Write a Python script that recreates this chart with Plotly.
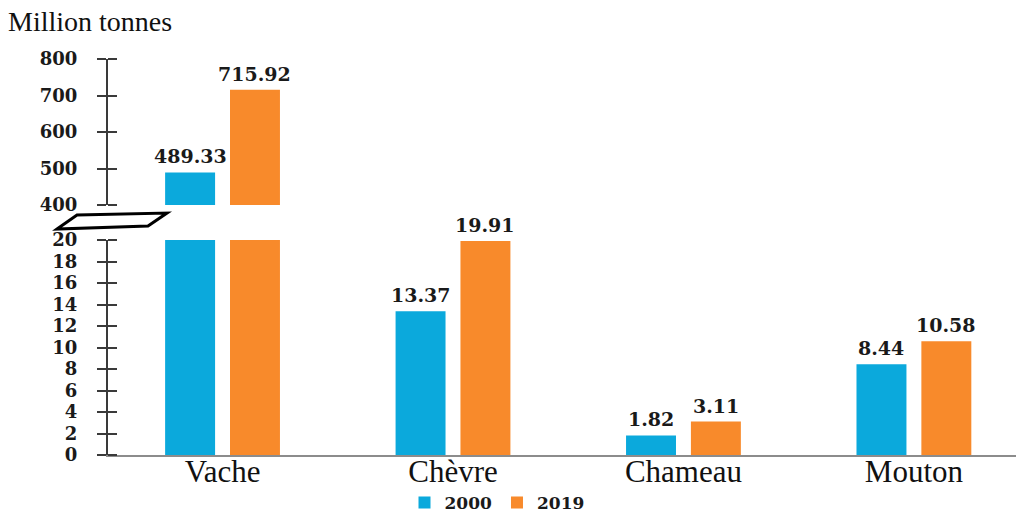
import plotly.graph_objects as go

# Livestock data (million tonnes)
categories = ["Vache", "Chèvre", "Chameau", "Mouton"]
values_2000 = [489.33, 13.37, 1.82, 8.44]
values_2019 = [715.92, 19.91, 3.11, 10.58]
series_names = ["2000", "2019"]
series_colors = ["#0BA9DC", "#F88A2B"]

# Broken value axis: a low segment and a high segment
low_range = [0, 20]
low_dtick = 2
high_range = [400, 800]
high_dtick = 100

# Page geometry
W, H = 1016, 513
ML, MR, MT, MB = 108, 0, 59, 58
PLOT_W = W - ML - MR
PLOT_H = H - MT - MB
LOW_DOMAIN = [0, 215 / PLOT_H]
HIGH_DOMAIN = [250 / PLOT_H, 1]
X_RANGE = [-0.497, 3.443]
BARGAP = 0.437
BARGROUPGAP = 0.23

TICK_FONT = dict(family="DejaVu Serif", size=18, color="#1a1a1a", weight="bold")
LABEL_FONT = dict(family="DejaVu Serif", size=19, color="#1a1a1a", weight="bold")
LEGEND_FONT = dict(family="DejaVu Serif", size=17, color="#1a1a1a", weight="bold")
CAT_FONT = dict(family="Liberation Serif", size=31, color="#111111")


def px_to_paper(px, py):
    return (px - ML) / PLOT_W, (H - MB - py) / PLOT_H


fig = go.Figure()

all_series = [values_2000, values_2019]
for name, vals, color in zip(series_names, all_series, series_colors):
    # lower segment
    fig.add_trace(go.Bar(
        x=categories, y=vals, name=name, marker=dict(color=color, line=dict(width=0)),
        xaxis="x", yaxis="y", cliponaxis=True, legendgroup=name, hoverinfo="x+y",
    ))
    # upper segment
    fig.add_trace(go.Bar(
        x=categories, y=vals, name=name, marker=dict(color=color, line=dict(width=0)),
        xaxis="x2", yaxis="y2", cliponaxis=True, legendgroup=name, showlegend=False,
        hoverinfo="x+y",
    ))

# value labels above bars, placed on whichever segment holds the bar top
cat_px = PLOT_W / (X_RANGE[1] - X_RANGE[0])
slot_px = cat_px * (1 - BARGAP) / len(all_series)
annotations = []
for i, vals in enumerate(all_series):
    shift = (i - (len(all_series) - 1) / 2) * slot_px
    for cat, v in zip(categories, vals):
        high = v > low_range[1]
        annotations.append(dict(
            x=cat, y=v, xref="x2" if high else "x", yref="y2" if high else "y",
            text=f"{v:.2f}", showarrow=False, xshift=shift, yshift=3,
            yanchor="bottom", xanchor="center", font=LABEL_FONT,
        ))

# unit title
tx, ty = px_to_paper(6, 4)
annotations.append(dict(
    x=tx, y=ty, xref="paper", yref="paper", text="Million tonnes",
    showarrow=False, xanchor="left", yanchor="top",
    font=dict(family="Liberation Serif", size=28, color="#111111"),
))

# axis break marker
pts = [px_to_paper(*p) for p in [(57, 229), (77, 215), (167, 213), (148, 226)]]
path = "M " + " L ".join(f"{x:.5f},{y:.5f}" for x, y in pts) + " Z"


def value_axis(domain, rng, dtick, anchor):
    # major ticks point outward, minor ticks (same spacing) point inward,
    # giving cross-shaped tick marks
    return dict(
        domain=domain, range=rng, anchor=anchor,
        showgrid=False, zeroline=False, showline=True, linecolor="#3a3a3a",
        linewidth=2, ticks="outside", ticklen=9, tickwidth=2, tickcolor="#3a3a3a",
        tickfont=TICK_FONT, ticklabelstandoff=16, tickmode="linear",
        tick0=rng[0], dtick=dtick,
        minor=dict(ticks="inside", ticklen=9, tickwidth=2, tickcolor="#3a3a3a",
                   tickmode="linear", tick0=rng[0] + dtick * 1e-4, dtick=dtick,
                   showgrid=False),
    )


fig.update_layout(
    width=W, height=H,
    margin=dict(l=ML, r=MR, t=MT, b=MB, autoexpand=False),
    paper_bgcolor="white", plot_bgcolor="white",
    barmode="group", bargap=BARGAP, bargroupgap=BARGROUPGAP,
    xaxis=dict(
        type="category", range=X_RANGE, anchor="y", showgrid=False,
        showline=True, linecolor="#8c8c8c", linewidth=2, ticks="",
        tickfont=CAT_FONT, ticklabelstandoff=-12,
    ),
    xaxis2=dict(
        type="category", range=X_RANGE, anchor="y2", matches="x",
        visible=False,
    ),
    yaxis=value_axis(LOW_DOMAIN, low_range, low_dtick, "x"),
    yaxis2=value_axis(HIGH_DOMAIN, high_range, high_dtick, "x2"),
    showlegend=True,
    legend=dict(
        orientation="h", x=px_to_paper(497, 0)[0], xanchor="center",
        y=px_to_paper(0, 503)[1], yanchor="middle",
        font=LEGEND_FONT, itemwidth=30, bgcolor="rgba(0,0,0,0)",
    ),
    annotations=annotations,
    shapes=[dict(type="path", path=path, xref="paper", yref="paper",
                 line=dict(color="#000000", width=3), fillcolor="white")],
)

fig.write_html("out.html")
